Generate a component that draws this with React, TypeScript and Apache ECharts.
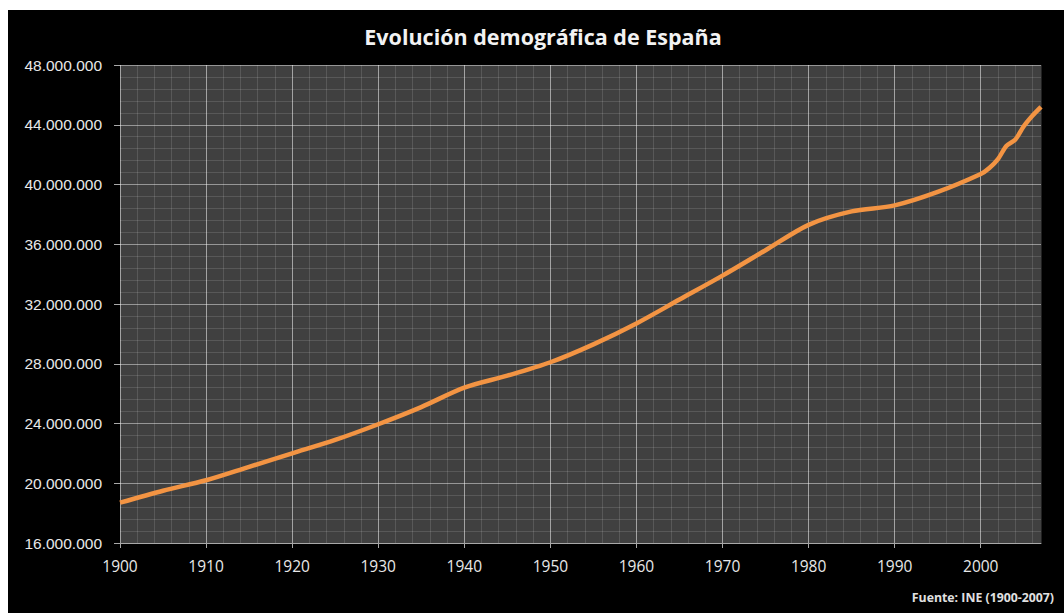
import React, { useEffect, useRef } from "react";
import * as echarts from "echarts";

const years = [
  1900, 1905, 1910, 1915, 1920, 1925, 1930, 1935, 1940, 1945, 1950, 1955, 1960, 1965,
  1970, 1975, 1980, 1985, 1990, 1995, 2000, 2001, 2002, 2003, 2004, 2005, 2006, 2007,
];
const population = [
  18.7, 19.5, 20.2, 21.1, 22.0, 22.9, 23.95, 25.1, 26.4, 27.2, 28.1, 29.3, 30.7, 32.3,
  33.9, 35.6, 37.3, 38.2, 38.6, 39.5, 40.7, 41.1, 41.7, 42.6, 43.0, 43.9, 44.6, 45.2,
].map((v) => v * 1e6);
const xLabels = [1900, 1910, 1920, 1930, 1940, 1950, 1960, 1970, 1980, 1990, 2000];
const titleText = "Evolución demográfica de España";
const sourceText = "Fuente: INE (1900-2007)";

function fmt(v: number): string {
  return String(Math.round(v)).replace(/\B(?=(\d{3})+(?!\d))/g, ".");
}

export default function App() {
  const ref = useRef<HTMLDivElement>(null);
  useEffect(() => {
    const chart = echarts.init(ref.current!, null, { renderer: "svg" });
    const minorColor = "rgba(255,255,255,0.13)";
    const majorColor = "rgba(255,255,255,0.45)";
    chart.setOption({
      animation: false,
      backgroundColor: "#000000",
      title: {
        text: titleText,
        left: 530,
        top: 10,
        textAlign: "center",
        textStyle: {
          color: "#f2f2f2",
          fontFamily: "Open Sans",
          fontWeight: "bold",
          fontSize: 21.5,
        },
      },
      graphic: [
        {
          type: "text",
          right: 10,
          top: 581,
          style: {
            text: sourceText,
            fill: "#e0e0e0",
            font: "bold 12.3px 'Open Sans'",
          },
        },
      ],
      grid: {
        left: 112,
        top: 55,
        right: 23,
        bottom: 70,
        show: true,
        backgroundColor: "#404040",
        borderWidth: 0,
        z: 0,
      },
      xAxis: [
        {
          type: "value",
          position: "bottom",
          min: 1900,
          max: 2007,
          interval: 2,
          z: 1,
          axisLine: { show: false },
          axisTick: { show: false },
          axisLabel: { show: false },
          splitLine: { show: true, lineStyle: { color: minorColor, width: 1 } },
        },
        {
          type: "value",
          position: "bottom",
          offset: 0,
          min: 1900,
          max: 2007,
          interval: 10,
          z: 3,
          axisLine: { show: true, lineStyle: { color: "#a8a8a8", width: 1 } },
          axisTick: {
            show: true,
            length: 5,
            lineStyle: { color: "#a8a8a8" },
            customValues: xLabels,
          },
          axisLabel: {
            color: "#e8e8e8",
            fontFamily: "Open Sans",
            fontSize: 15.5,
            margin: 15,
            customValues: xLabels,
            formatter: (v: number) => (v % 10 === 0 ? String(v) : ""),
          },
          splitLine: { show: true, lineStyle: { color: majorColor, width: 1 } },
        },
      ],
      yAxis: {
        type: "value",
        min: 16e6,
        max: 48e6,
        interval: 4e6,
        z: 2,
        axisLine: { show: false },
        axisTick: { show: true, length: 6, lineStyle: { color: "#a8a8a8" } },
        axisLabel: {
          color: "#e8e8e8",
          fontFamily: "Liberation Sans",
          fontSize: 15.5,
          margin: 18,
          formatter: (v: number) => fmt(v),
        },
        splitLine: { show: true, lineStyle: { color: majorColor, width: 1 } },
        minorTick: { show: false, splitNumber: 5 },
        minorSplitLine: { show: true, lineStyle: { color: minorColor, width: 1 } },
      },
      series: [
        {
          type: "line",
          xAxisIndex: 1,
          data: years.map((y, i) => [y, population[i]]),
          smooth: 0.3,
          symbol: "none",
          z: 5,
          lineStyle: { color: "#f39443", width: 4.5 },
        },
      ],
    });
    return () => chart.dispose();
  }, []);
  return (
    <div
      ref={ref}
      style={{ position: "absolute", left: 8, top: 10, width: 1056, height: 603 }}
    />
  );
}
